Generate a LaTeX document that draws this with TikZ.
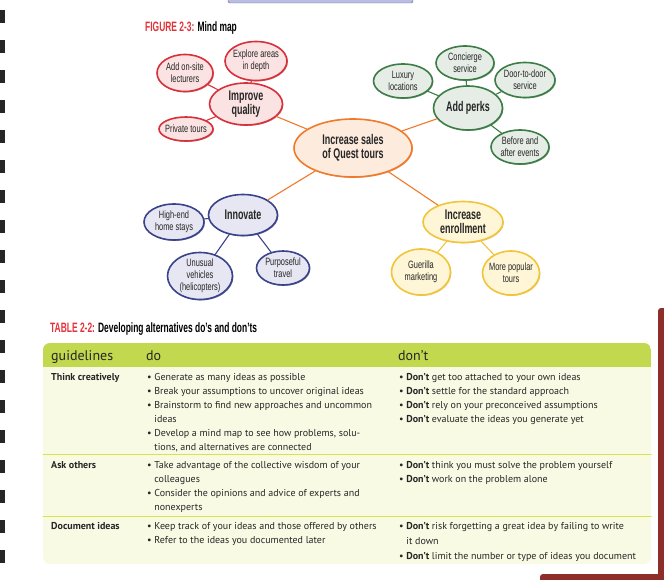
\documentclass[tikz,border=0pt]{standalone}
\usepackage{fontspec}
\setmainfont{PT Sans}
\newfontfamily\mapfont{Liberation Sans}[FakeStretch=0.7]
\newfontfamily\hubfont{Liberation Sans}[FakeStretch=0.64]
\newfontfamily\headfont{Liberation Sans}[FakeStretch=0.62]
\usetikzlibrary{shapes.geometric,shadows}
\definecolor{figred}{HTML}{E2323A}
\definecolor{redline}{HTML}{D7303A}
\definecolor{redfill}{HTML}{FAE3E2}
\definecolor{grnline}{HTML}{3C7D46}
\definecolor{grnfill}{HTML}{E5EDE6}
\definecolor{bluline}{HTML}{39428A}
\definecolor{blufill}{HTML}{E6E7F2}
\definecolor{yelline}{HTML}{F2C43A}
\definecolor{yelfill}{HTML}{FEF6D6}
\definecolor{orgline}{HTML}{F07A2A}
\definecolor{orgfill}{HTML}{FDEBDD}
\definecolor{headgreen}{HTML}{C2D84E}
\definecolor{bodyfill}{HTML}{F9FAE4}
\definecolor{sepline}{HTML}{D9E24C}
\definecolor{maroon}{HTML}{8E2E2A}
\definecolor{topbar}{HTML}{B9BDE6}
\newcommand\bul{\textbullet\ }
\newcommand\hang{\phantom{\textbullet\ }}
\tikzset{
  bubble/.style={ellipse,inner xsep=-10pt,inner ysep=-7pt,align=center,line width=1.6pt,
    text=black!85,font=\mapfont\fontsize{10.6}{12}\selectfont},
  hub/.style={bubble,font=\hubfont\bfseries\fontsize{14}{14.5}\selectfont},
  red/.style={draw=redline,fill=redfill,drop shadow={shadow xshift=.9pt,shadow yshift=-.9pt,fill=redline!70!black,opacity=.55}},
  grn/.style={draw=grnline,fill=grnfill,drop shadow={shadow xshift=.9pt,shadow yshift=-.9pt,fill=grnline!70!black,opacity=.55}},
  blu/.style={draw=bluline,fill=blufill,drop shadow={shadow xshift=.9pt,shadow yshift=-.9pt,fill=bluline!70!black,opacity=.55}},
  yel/.style={draw=yelline,fill=yelfill,drop shadow={shadow xshift=.9pt,shadow yshift=-.9pt,fill=yelline!80!black,opacity=.55}},
  org/.style={draw=orgline,fill=orgfill,drop shadow={shadow xshift=.9pt,shadow yshift=-.9pt,fill=orgline!80!black,opacity=.55}},
  link/.style={line width=1.1pt},
  cell/.style={anchor=north west,inner sep=0pt,align=left,text=black!85,font=\fontsize{10}{14}\selectfont},
  colhead/.style={anchor=base west,inner sep=0pt,text=black!85,font=\fontsize{14}{14}\selectfont},
  caption/.style={anchor=base west,inner sep=0pt,font=\headfont\bfseries\fontsize{13.6}{14}\selectfont},
}
\begin{document}
\begin{tikzpicture}[x=1pt,y=-1pt,line join=round,line cap=round]
\useasboundingbox (0,0) rectangle (664,580);
% page edges
\foreach \k in {10,40,...,550}
  \fill[black!85] (0,\k) rectangle (5,\k+13);
\filldraw[fill=topbar,draw=topbar!50!black,rounded corners=2pt] (228,-4) rectangle (413,3);
\fill[maroon,rounded corners=3pt] (658,308) rectangle (672,577);
\fill[maroon,rounded corners=3pt] (540,574) rectangle (672,586);
% mind map
\node[caption] (figtitle) at (145,32) {\textcolor{figred}{FIGURE 2-3:} Mind map};
\node[hub,org,minimum width=118pt,minimum height=58pt] (sales) at (353,148) {Increase sales\\of Quest tours};
\node[hub,red,minimum width=73pt,minimum height=42pt] (quality) at (246,104) {Improve\\quality};
\node[hub,grn,minimum width=69pt,minimum height=44pt] (perks) at (468,108) {Add perks};
\node[hub,blu,minimum width=69pt,minimum height=41pt] (innov) at (243,215) {Innovate};
\node[hub,yel,minimum width=80pt,minimum height=41pt] (enroll) at (463,222) {Increase\\enrollment};
\foreach \n/\x/\y/\w/\h/\s/\t in {
  explore/256/61/62/39/red/{Explore areas\\in depth},
  lecturers/185/73/56/37/red/{Add on-site\\lecturers},
  private/186/129/54/24/red/{Private tours},
  luxury/403/81/59/34/grn/{Luxury\\locations},
  concierge/465/63/58/34/grn/{Concierge\\service},
  door/525/80/60/35/grn/{Door-to-door\\service},
  before/520/147/58/34/grn/{Before and\\after events},
  highend/174/222/60/36/blu/{High-end\\home stays},
  vehicles/200/276/65/47/blu/{Unusual\\vehicles\\(helicopters)},
  purposeful/283/268/53/34/blu/{Purposeful\\travel},
  guerilla/421/272/59/46/yel/{Guerilla\\marketing},
  popular/511/273/57/44/yel/{More popular\\tours}}
  \node[bubble,\s,minimum width=\w pt,minimum height=\h pt] (\n) at (\x,\y) {\t};
\foreach \a/\b/\c in {sales/quality/orgline,sales/perks/orgline,sales/innov/orgline,sales/enroll/orgline,
  quality/explore/redline,quality/lecturers/redline,quality/private/redline,
  perks/luxury/grnline,perks/concierge/grnline,perks/door/grnline,perks/before/grnline,
  innov/highend/bluline,innov/vehicles/bluline,innov/purposeful/bluline,
  enroll/guerilla/yelline,enroll/popular/yelline}
  \draw[link,\c] (\a)--(\b);
% table
\node[caption] (tabtitle) at (50,332) {\textcolor{figred}{TABLE 2-2:} Developing alternatives do’s and don’ts};
\fill[bodyfill,rounded corners=7pt] (43,343) rectangle (651,564);
\begin{scope}
  \clip[rounded corners=7pt] (43,343) rectangle (651,564);
  \fill[headgreen] (43,343) rectangle (651,367);
\end{scope}
\draw[sepline,line width=1pt] (43,454)--(651,454) (43,516)--(651,516);
\node[colhead] (hguide) at (51,360) {guidelines};
\node[colhead] (hdo) at (146,360) {do};
\node[colhead] (hdont) at (398,360) {don’t};
\node[cell] (think) at (51,373) {\textbf{Think creatively}};
\node[cell] (thinkdo) at (147,373) {\bul Generate as many ideas as possible\\
  \bul Break your assumptions to uncover original ideas\\
  \bul Brainstorm to find new approaches and uncommon\\
  \hang ideas\\
  \bul Develop a mind map to see how problems, solu-\\
  \hang tions, and alternatives are connected};
\node[cell] (thinkdont) at (399,373) {\bul \textbf{Don’t} get too attached to your own ideas\\
  \bul \textbf{Don’t} settle for the standard approach\\
  \bul \textbf{Don’t} rely on your preconceived assumptions\\
  \bul \textbf{Don’t} evaluate the ideas you generate yet};
\node[cell] (ask) at (51,461) {\textbf{Ask others}};
\node[cell] (askdo) at (147,461) {\bul Take advantage of the collective wisdom of your\\
  \hang colleagues\\
  \bul Consider the opinions and advice of experts and\\
  \hang nonexperts};
\node[cell] (askdont) at (399,461) {\bul \textbf{Don’t} think you must solve the problem yourself\\
  \bul \textbf{Don’t} work on the problem alone};
\node[cell] (docu) at (51,522) {\textbf{Document ideas}};
\node[cell] (docudo) at (147,522) {\bul Keep track of your ideas and those offered by others\\
  \bul Refer to the ideas you documented later};
\node[cell,font=\fontsize{10}{15}\selectfont] (docudont) at (399,522) {\bul \textbf{Don’t} risk forgetting a great idea by failing to write\\
  \hang it down\\
  \bul \textbf{Don’t} limit the number or type of ideas you document};
\end{tikzpicture}
\end{document}
